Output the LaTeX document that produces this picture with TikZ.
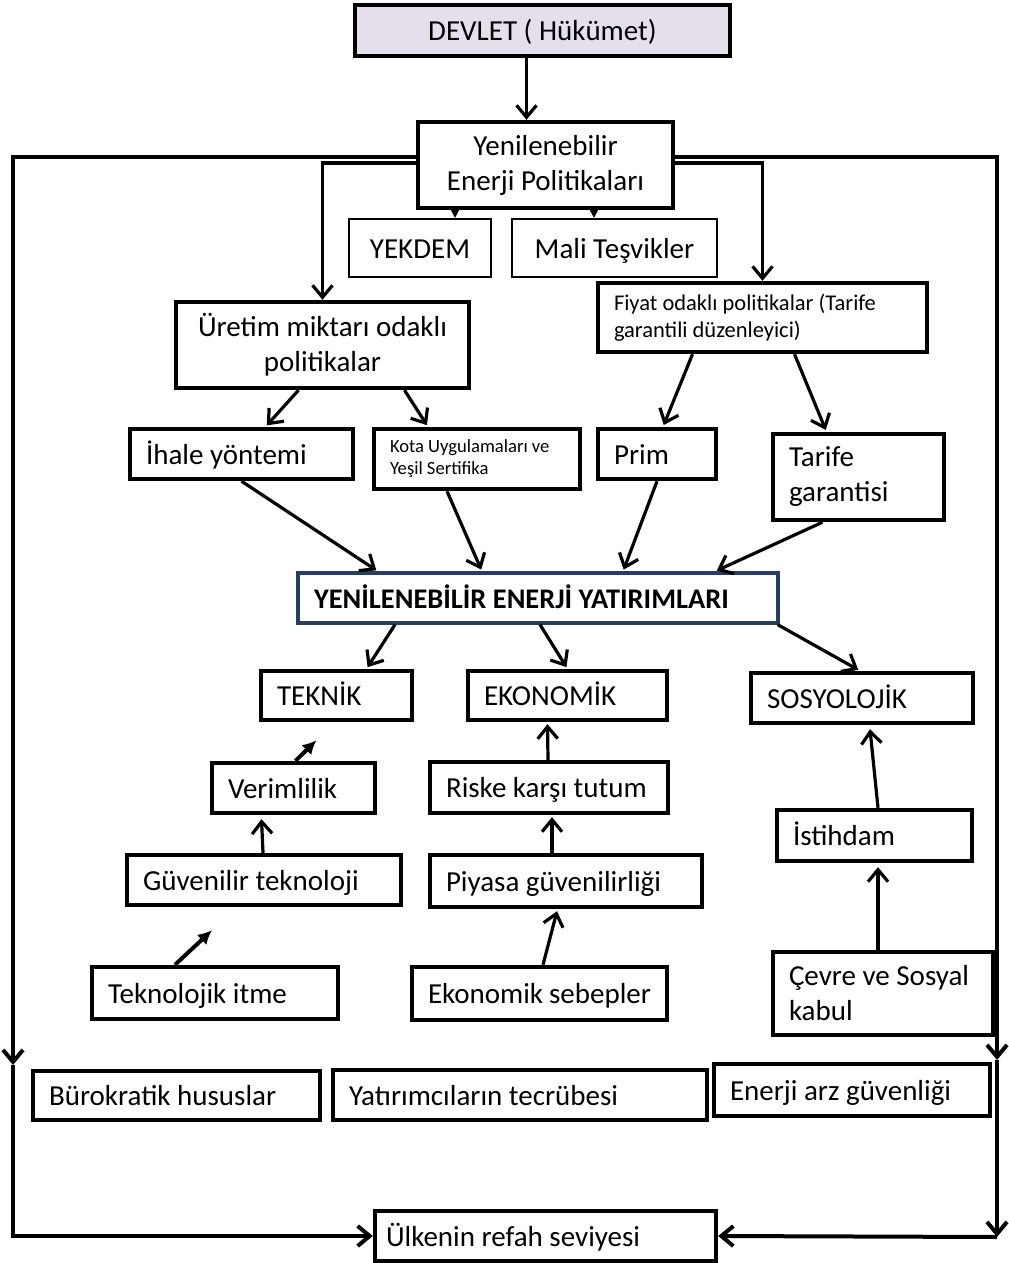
\documentclass[tikz,border=0pt]{standalone}
\usepackage{fontspec}
\setmainfont{Carlito}
\usetikzlibrary{arrows.meta}

\definecolor{devletfill}{HTML}{E5DFEC}
\definecolor{yatirimblue}{HTML}{243F60}

\begin{document}
\begin{tikzpicture}[x=0.5pt,y=-0.5pt,
  box/.style={draw,line width=2.2pt,inner sep=0pt,font=\fontsize{14.5}{17.5}\selectfont,
    execute at begin node={\spaceskip=0pt\xspaceskip=0pt\hyphenpenalty=10000}},
  cbox/.style={box,align=center},
  lbox/.style={box,align=flush left,inner xsep=8pt},
  one/.style={text height=13pt,text depth=3pt},
  thinbox/.style={line width=1pt},
  arr/.style={line width=1.6pt,-{Straight Barb[length=6pt,width=10pt]}},
  solid arr/.style={line width=2pt,-{Latex[length=7pt,width=7pt]}},
  tri/.style={line width=1pt,-{Triangle[length=5pt,width=5pt]}},
  frame/.style={line width=2pt}]

\useasboundingbox (0,0) rectangle (1008,1263);

% ust kisim
\node[cbox,one,fill=devletfill,minimum width=187.5pt,minimum height=25.5pt] (devlet) at (542.5,30.5) {DEVLET ( Hükümet)};
\node[cbox,minimum width=127.5pt,minimum height=43pt] (politika) at (545.5,165) {Yenilenebilir\\Enerji Politikaları};
\node[cbox,one,thinbox,minimum width=71pt,minimum height=29pt] (yekdem) at (420,248) {YEKDEM};
\node[cbox,one,thinbox,minimum width=102.5pt,minimum height=29pt] (mali) at (614.5,248) {Mali Teşvikler};
\node[cbox,minimum width=146.5pt,minimum height=43pt] (uretim) at (322.5,345) {Üretim miktarı odaklı\\politikalar};
\node[lbox,text width=148.5pt,minimum height=34.5pt,font=\fontsize{11.25}{13.5}\selectfont] (fiyat) at (762.5,317.5) {Fiyat odaklı politikalar (Tarife\\garantili düzenleyici)};

% politika araclari
\node[lbox,one,text width=95.5pt,minimum height=25pt] (ihale) at (241.5,454) {İhale yöntemi};
\node[lbox,text width=87pt,minimum height=30pt,font=\fontsize{9.3}{11}\selectfont] (kota) at (477,459) {Kota Uygulamaları ve\\Yeşil Sertifika};
\node[lbox,one,text width=43pt,minimum height=25pt] (prim) at (657,454) {Prim};
\node[lbox,text width=69.5pt,minimum height=43pt] (tarife) at (858.5,477) {Tarife\\garantisi};

% yatirimlar
\node[lbox,one,draw=yatirimblue,line width=1.6pt,text width=224pt,minimum height=25pt,font=\fontsize{14.2}{17}\selectfont\bfseries] (yatirim) at (538,598) {YENİLENEBİLİR ENERJİ YATIRIMLARI};

\node[lbox,one,text width=59.5pt,minimum height=24.5pt] (teknik) at (336.5,695.5) {TEKNİK};
\node[lbox,one,text width=83.5pt,minimum height=24.5pt] (ekonomik) at (567.5,695.5) {EKONOMİK};
\node[lbox,one,text width=95pt,minimum height=25pt] (sosyo) at (862,698) {SOSYOLOJİK};

\node[lbox,one,text width=65.5pt,minimum height=25pt] (verim) at (293.5,788) {Verimlilik};
\node[lbox,one,text width=103pt,minimum height=25.5pt] (riske) at (549,787.5) {Riske karşı tutum};
\node[lbox,one,text width=121pt,minimum height=25pt] (guvtek) at (264,880) {Güvenilir teknoloji};
\node[lbox,one,text width=120pt,minimum height=26pt] (piyasa) at (566,881) {Piyasa güvenilirliği};
\node[lbox,one,text width=81.5pt,minimum height=25.5pt] (istihdam) at (874.5,835.5) {İstihdam};
\node[lbox,one,text width=107pt,minimum height=26pt] (teknoloji) at (215,993) {Teknolojik itme};
\node[lbox,one,text width=111.5pt,minimum height=26.5pt] (ekosebep) at (539.5,993.5) {Ekonomik sebepler};
\node[lbox,text width=94pt,minimum height=41.5pt] (cevre) at (883,993.5) {Çevre ve Sosyal\\kabul};

% alt kisim
\node[lbox,one,text width=127.5pt,minimum height=24.5pt] (buro) at (176.5,1095.5) {Bürokratik hususlar};
\node[lbox,one,text width=171pt,minimum height=25pt] (yatirimci) at (520,1095) {Yatırımcıların tecrübesi};
\node[lbox,one,text width=122pt,minimum height=26pt] (enerjiarz) at (852,1090) {Enerji arz güvenliği};
\node[lbox,one,inner xsep=5.5pt,text width=159.5pt,minimum height=25pt] (refah) at (545.5,1236) {Ülkenin refah seviyesi};

\coordinate (yk) at (455,0);
\coordinate (mt) at (594,0);
\coordinate (lfoot) at (13,1065);
\coordinate (rfoot) at (997,1060);
\coordinate (rcorner) at (997,1237);

% baglantilar
\draw[arr] ([xshift=-8pt]devlet.south) -- ([xshift=-8pt]devlet.south |- politika.north);
\draw[tri] (politika.south -| yk) -- (yekdem.north -| yk);
\draw[tri] (politika.south -| mt) -- (mali.north -| mt);

\draw[arr] ([yshift=1pt]politika.west) -| (uretim.north);
\draw[arr] ([yshift=1pt]politika.east) -| (fiyat.north);
\draw[arr,frame] ([yshift=4pt]politika.west) -| (lfoot);
\draw[arr,frame] ([yshift=4pt]politika.east) -| (rfoot);
\draw[arr,frame] (lfoot) |- (refah.west);
\draw[arr,frame] (rfoot) -- (rcorner);
\draw[arr,frame] (rcorner) -- (refah.east);

\draw[arr,shorten >=1pt] ([xshift=-12pt]uretim.south) -- ([xshift=12pt]ihale.north);
\draw[arr,shorten >=1pt] ([xshift=41pt]uretim.south) -- ([xshift=-24.5pt]kota.north);
\draw[arr,shorten >=1pt] ([xshift=-35pt]fiyat.south) -- ([xshift=3pt]prim.north);
\draw[arr,shorten >=1pt] ([xshift=16pt]fiyat.south) -- ([xshift=-16pt]tarife.north);

\draw[arr,shorten >=1pt] (ihale.south) -- ([xshift=-80pt]yatirim.north);
\draw[arr,shorten >=1pt] ([xshift=-15pt]kota.south) -- ([xshift=-28pt]yatirim.north);
\draw[arr,shorten >=1pt] (prim.south) -- ([xshift=42.5pt]yatirim.north);
\draw[arr,shorten >=1pt] ([xshift=-18pt]tarife.south) -- ([xshift=88.5pt]yatirim.north);

\draw[arr,shorten >=1pt] ([xshift=-71.5pt]yatirim.south) -- ([xshift=15pt]teknik.north);
\draw[arr,shorten >=1pt] ([xshift=1pt]yatirim.south) -- (ekonomik.north);
\draw[arr,shorten >=1pt] ([xshift=-1pt]yatirim.south east) -- ([xshift=-1pt]sosyo.north);

\draw[solid arr] ([xshift=1pt]verim.north) -- ([xshift=-10pt,yshift=-9pt]teknik.south);
\draw[arr] ([xshift=-0.5pt]guvtek.north) -- ([xshift=-16pt,yshift=-2pt]verim.south);
\draw[solid arr] ([xshift=-20pt]teknoloji.north) -- ([xshift=-26pt,yshift=-11.5pt]guvtek.south);

\draw[arr] ([xshift=-0.5pt]riske.north) -- ([xshift=-10pt,yshift=-1pt]ekonomik.south);
\draw[arr] ([xshift=-7pt]piyasa.north) -- ([xshift=1.5pt,yshift=-1pt]riske.south);
\draw[arr] ([xshift=1.75pt]ekosebep.north) -- ([xshift=-4.5pt,yshift=-1pt]piyasa.south);

\draw[arr] ([xshift=1.75pt]istihdam.north) -- ([xshift=4pt,yshift=-2pt]sosyo.south);
\draw[arr] ([xshift=-2.5pt]cevre.north) -- ([xshift=1.75pt,yshift=-2pt]istihdam.south);

\end{tikzpicture}
\end{document}
